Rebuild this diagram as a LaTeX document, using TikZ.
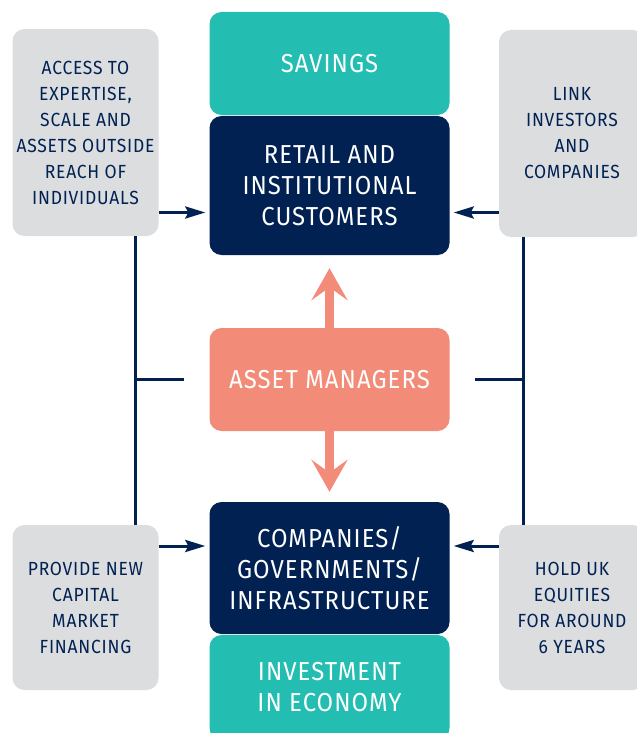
\documentclass[tikz,border=0pt]{standalone}
\usepackage{fontspec}
\setmainfont{Fira Sans}[FakeStretch=0.92,LetterSpace=4]
\usetikzlibrary{arrows.meta}
\definecolor{mynavy}{HTML}{002152}
\definecolor{myteal}{HTML}{23BDB2}
\definecolor{mysalmon}{HTML}{F38B79}
\definecolor{mygrey}{HTML}{DCDDDF}
\tikzset{mybox/.style={rounded corners=12pt,minimum width=240pt,inner sep=0pt,align=center,text=white,font=\fontsize{26}{31}\selectfont}}
\tikzset{mynote/.style={fill=mygrey,rounded corners=12pt,minimum width=146pt,inner sep=0pt,align=center,text=mynavy,font=\fontsize{19}{26}\selectfont}}
\tikzset{mylink/.style={mynavy,line width=3pt}}
\tikzset{myarrow/.style={mylink,-{Stealth[length=20pt,width=12pt,inset=3pt]}}}
\tikzset{mybig/.style={mysalmon,line width=9pt,-{Stealth[length=32pt,width=36pt,inset=13pt]}}}

\begin{document}
\begin{tikzpicture}[x=1pt,y=-1pt]
	\clip (0,0) rectangle (637,733);

	\node[mybox,fill=myteal,minimum height=103pt] (savings) at (329.5,63.5) {SAVINGS};
	\node[mybox,fill=mynavy,minimum height=139pt] (retail) at (329.5,185.5) {RETAIL AND\\INSTITUTIONAL\\CUSTOMERS};
	\node[mybox,fill=mysalmon,minimum height=103pt] (am) at (329.5,379.5) {ASSET MANAGERS};
	\node[mybox,fill=mynavy,minimum height=132pt] (companies) at (329.5,568) {COMPANIES/\\GOVERNMENTS/\\INFRASTRUCTURE};
	\node[mybox,fill=myteal,minimum height=105pt] (invest) at (329.5,687.5) {INVESTMENT\\IN ECONOMY};

	\node[mynote,minimum height=207pt] (access) at (85.5,132.5) {ACCESS TO\\EXPERTISE,\\SCALE AND\\ASSETS OUTSIDE\\REACH OF\\INDIVIDUALS};
	\node[mynote,minimum height=207pt] (link) at (572,133.5) {LINK\\INVESTORS\\AND\\COMPANIES};
	\node[mynote,minimum height=165pt] (provide) at (85.5,607.5) {PROVIDE NEW\\CAPITAL\\MARKET\\FINANCING};
	\node[mynote,minimum height=165pt] (hold) at (572,607.5) {HOLD UK\\EQUITIES\\FOR AROUND\\6 YEARS};

	\coordinate (lbus) at (135,379.5);
	\coordinate (rbus) at (523,379.5);
	\coordinate (rin) at ([yshift=-27pt]retail.west);
	\coordinate (rout) at ([yshift=-27pt]retail.east);
	\coordinate (cin) at ([yshift=22pt]companies.west);
	\coordinate (cout) at ([yshift=22pt]companies.east);

	\draw[mylink] (access.south -| lbus) -- (provide.north -| lbus);
	\draw[mylink] (lbus) -- ([xshift=-25pt]am.west);
	\draw[mylink] (link.south -| rbus) -- (hold.north -| rbus);
	\draw[mylink] (rbus) -- ([xshift=25pt]am.east); % side lines

	\draw[myarrow,shorten >=4pt] (access.east |- rin) -- (rin);
	\draw[myarrow,shorten >=4pt] (link.west |- rout) -- (rout);
	\draw[myarrow,shorten >=4pt] (provide.east |- cin) -- (cin);
	\draw[myarrow,shorten >=4pt] (hold.west |- cout) -- (cout);

	\draw[mybig] (am.north) -- ([yshift=-13pt]retail.south);
	\draw[mybig] (am.south) -- ([yshift=10pt]companies.north);
\end{tikzpicture}
\end{document}
